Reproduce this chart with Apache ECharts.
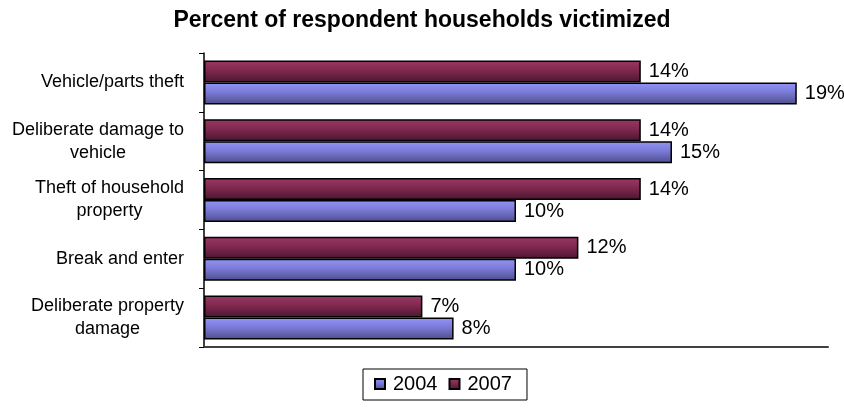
<!DOCTYPE html>
<html>
<head>
<meta charset="utf-8">
<script src="https://cdn.jsdelivr.net/npm/echarts@6/dist/echarts.min.js"></script>
<style>html,body{margin:0;padding:0;background:#fff}#c{width:844px;height:409px}</style>
</head>
<body>
<div id="c"></div>
<script>
const categories = ["Vehicle/parts theft", "Deliberate damage to\nvehicle", "Theft of household\nproperty", "Break and enter", "Deliberate property\ndamage"];
const values2004 = [19, 15, 10, 10, 8];
const values2007 = [14, 14, 14, 12, 7];
const seriesNames = ["2004", "2007"];
const titleText = "Percent of respondent households victimized";

const font = "Liberation Sans, Arial, sans-serif";
function grad(top, mid, bottom) {
  return new echarts.graphic.LinearGradient(0, 0, 0, 1, [
    {offset: 0, color: top}, {offset: 0.45, color: mid}, {offset: 1, color: bottom}
  ]);
}
const chart = echarts.init(document.getElementById('c'), null, {renderer: 'canvas'});
chart.setOption({
  animation: false,
  backgroundColor: '#fff',
  title: {
    text: titleText, left: 'center', top: 4,
    textStyle: {fontFamily: font, fontSize: 23, fontWeight: 'bold', color: '#000'}
  },
  legend: {
    data: seriesNames,
    left: 363, top: 369,
    orient: 'horizontal',
    padding: [5, 15, 6, 11],
    itemGap: 11,
    itemWidth: 10, itemHeight: 10,
    icon: 'rect',
    borderColor: '#000', borderWidth: 1,
    textStyle: {fontFamily: font, fontSize: 20, color: '#000', padding: [0, 0, 0, 3]}
  },
  grid: {left: 204, right: 16, top: 53, bottom: 62, containLabel: false},
  xAxis: {
    type: 'value', min: 0, max: 20, interval: 2,
    axisLine: {show: true, lineStyle: {color: '#404040', width: 2}},
    axisTick: {show: false}, axisLabel: {show: false}, splitLine: {show: false}
  },
  yAxis: {
    type: 'category', data: categories, inverse: true,
    axisLine: {show: true, lineStyle: {color: '#000', width: 1.5}},
    axisTick: {show: true, length: 5, lineStyle: {color: '#000'}},
    axisLabel: {
      margin: 20,
      formatter: function (v) { return v.split('\n').map(l => '{c|' + l + '}').join('\n'); },
      rich: {c: {align: 'center', fontFamily: font, fontSize: 18, color: '#000', lineHeight: 23}}
    }
  },
  series: [
    {
      name: '2007', type: 'bar', data: values2007, barWidth: 22, barGap: '0%',
      itemStyle: {color: grad('#9b3868', '#80294f', '#4a1530'), borderColor: '#000', borderWidth: 1.5},
      label: {show: true, position: 'right', distance: 8, formatter: '{c}%', fontFamily: font, fontSize: 20, color: '#000'}
    },
    {
      name: '2004', type: 'bar', data: values2004, barWidth: 22, barGap: '0%',
      itemStyle: {color: grad('#9494f8', '#7a7ad6', '#4d4d8c'), borderColor: '#000', borderWidth: 1.5},
      label: {show: true, position: 'right', distance: 8, formatter: '{c}%', fontFamily: font, fontSize: 20, color: '#000'}
    }
  ]
});
</script>
</body>
</html>
